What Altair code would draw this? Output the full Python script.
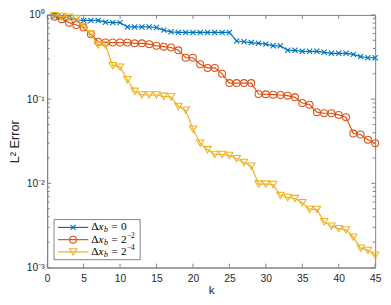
import altair as alt
import pandas as pd

# ---- data ----
k = list(range(1, 46))
err_dx0 = [0.97, 0.95, 0.93, 0.87, 0.86, 0.86, 0.86, 0.82, 0.81,
           0.81, 0.72, 0.72, 0.72, 0.72, 0.71, 0.66, 0.63, 0.62, 0.62,
           0.62, 0.62, 0.62, 0.62, 0.62, 0.62, 0.49, 0.48, 0.47, 0.46,
           0.45, 0.43, 0.43, 0.38, 0.38, 0.37, 0.37, 0.37, 0.36, 0.35,
           0.35, 0.35, 0.34, 0.32, 0.31, 0.31]
err_dx2 = [0.95, 0.89, 0.81, 0.76, 0.71, 0.59, 0.48, 0.47, 0.47,
           0.47, 0.47, 0.46, 0.46, 0.45, 0.43, 0.42, 0.41, 0.38, 0.31,
           0.31, 0.26, 0.235, 0.235, 0.20, 0.155, 0.155, 0.155, 0.155, 0.115,
           0.114, 0.113, 0.112, 0.11, 0.105, 0.09, 0.086, 0.07, 0.068, 0.068,
           0.065, 0.061, 0.039, 0.038, 0.033, 0.030]
err_dx4 = [0.98, 0.96, 0.94, 0.90, 0.73, 0.59, 0.44, 0.44, 0.25,
           0.24, 0.17, 0.124, 0.112, 0.112, 0.112, 0.108, 0.106, 0.082, 0.074,
           0.044, 0.030, 0.025, 0.022, 0.022, 0.0215, 0.0196, 0.0177, 0.016, 0.0098,
           0.0098, 0.0097, 0.0072, 0.0068, 0.0066, 0.0059, 0.0049, 0.0049, 0.0035, 0.0031,
           0.0029, 0.0028, 0.0023, 0.0017, 0.0016, 0.0014]

series_errs = [err_dx0, err_dx2, err_dx4]
colors = ["#0072BD", "#D95319", "#EDB120"]
shapes = ["M-1,-1L1,1M1,-1L-1,1", "circle", "triangle-down"]
sizes = [28, 50, 56]
sup = ["0", "2", "2"]
sup_exp = ["", "−2", "−4"]

x_ticks = list(range(0, 46, 5))
y_major = [0.001, 0.01, 0.1, 1.0]
y_minor = [m * d for d in [0.001, 0.01, 0.1] for m in range(2, 10)]

W, H = 335, 258
AX = "#7f7f7f"
FONT = "Liberation Sans"
SERIF = "Liberation Serif"

xs = alt.Scale(domain=[0, 45], nice=False)
ys = alt.Scale(type="log", domain=[0.001, 1], nice=False)

ylabel = ("datum.value == 1 ? '10⁰' : datum.value == 0.1 ? '10⁻¹' : "
          "datum.value == 0.01 ? '10⁻²' : '10⁻³'")
AXX = alt.Axis(values=x_ticks, tickSize=0, labelPadding=6, labelOverlap=False, labelFlush=False,
               title="k", titleFontSize=12, titleFontWeight="normal",
               titleY=23, titleBaseline="middle", grid=False)
AXY = alt.Axis(values=y_major, tickSize=0, labelPadding=3, labelOverlap=False, labelFlush=False,
               labelExpr=ylabel, title="L² Error", titleFontSize=13,
               titleFontWeight="normal", titleX=-33, titleBaseline="middle", grid=False)


def X(field="k:Q"):
    return alt.X(field, scale=xs, axis=AXX)


def Y(field="v:Q"):
    return alt.Y(field, scale=ys, axis=AXY)


layers = []

# inward ticks
xt = pd.DataFrame({"k": x_ticks})
layers.append(alt.Chart(xt).mark_rule(color=AX, strokeWidth=1).encode(
    x=X(), y=alt.value(H), y2=alt.value(H - 4)))
layers.append(alt.Chart(xt).mark_rule(color=AX, strokeWidth=1).encode(
    x=X(), y=alt.value(0), y2=alt.value(4)))
ymj = pd.DataFrame({"v": y_major})
ymn = pd.DataFrame({"v": y_minor})
for df, ln in [(ymj, 4), (ymn, 2.5)]:
    layers.append(alt.Chart(df).mark_rule(color=AX, strokeWidth=1).encode(
        y=Y(), x=alt.value(0), x2=alt.value(ln)))
    layers.append(alt.Chart(df).mark_rule(color=AX, strokeWidth=1).encode(
        y=Y(), x=alt.value(W), x2=alt.value(W - ln)))

# series
for errs, c, s, sz in zip(series_errs, colors, shapes, sizes):
    df = pd.DataFrame({"k": k, "v": errs})
    base = alt.Chart(df).encode(x=X(), y=Y())
    layers.append(base.mark_line(color=c, strokeWidth=1.2))
    layers.append(base.mark_point(shape=s, color=c, filled=False, size=sz, strokeWidth=1.1, opacity=1))

# legend (drawn manually)
one = pd.DataFrame({"a": [0]})
bx0, bx1, by0, by1 = 7, 95, 209, 250
layers.append(alt.Chart(one).mark_rect(fill="white", stroke=AX, strokeWidth=1).encode(
    x=alt.value(bx0), x2=alt.value(bx1), y=alt.value(by0), y2=alt.value(by1)))
rows = [217, 229.5, 242]
for i, ry in enumerate(rows):
    c = colors[i]
    layers.append(alt.Chart(one).mark_rule(color=c, strokeWidth=1.2).encode(
        x=alt.value(11), x2=alt.value(42), y=alt.value(ry)))
    layers.append(alt.Chart(one).mark_point(shape=shapes[i], color=c, filled=False,
                                            size=sizes[i], strokeWidth=1.1, opacity=1).encode(
        x=alt.value(26.5), y=alt.value(ry)))
    segs = [("Δ", 45, 0, 11.5, "normal"), ("x", 52.5, 0, 11.5, "italic"), ("b", 58, 3, 8, "italic"),
            ("=", 65.5, 0, 11.5, "normal"), (sup[i], 75.5, 0, 11.5, "normal")]
    if sup_exp[i]:
        segs.append((sup_exp[i], 81.5, -4, 7.5, "normal"))
    for txt, tx, dy, fs, st in segs:
        layers.append(alt.Chart(one).mark_text(text=txt, font=SERIF, fontSize=fs, fontStyle=st,
                                               align="left", baseline="middle", dy=dy,
                                               color="#000000").encode(
            x=alt.value(tx), y=alt.value(ry)))

chart = alt.layer(*layers).properties(
    width=W, height=H,
    autosize=alt.AutoSizeParams(type="none"),
    padding={"left": 40, "top": 4, "right": 8, "bottom": 27},
).configure_view(stroke=AX, strokeWidth=1).configure_axis(
    labelFont=FONT, titleFont=FONT, labelFontSize=10.5, labelColor="#262626",
    titleColor="#262626", domainColor=AX, domainWidth=1,
)

chart.save("out.html", embed_options={"renderer": "svg", "actions": False})
